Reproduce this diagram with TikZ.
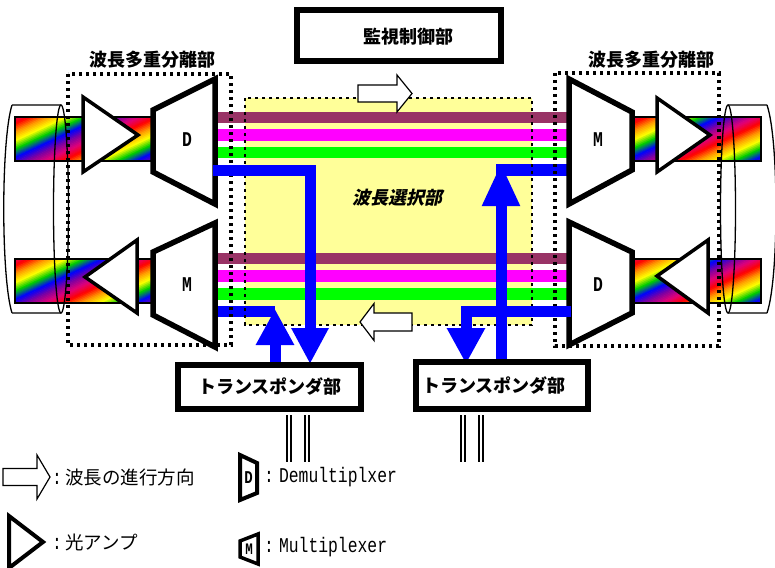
\documentclass[tikz,border=0pt]{standalone}
\usepackage{fontspec}
\newfontfamily\jpfont{Noto Sans CJK JP}
\newfontfamily\jpslant{Noto Sans CJK JP}[FakeSlant=0.22]
\newfontfamily\narrowmono{Liberation Mono}[FakeStretch=0.78]
\usetikzlibrary{arrows.meta}

\definecolor{chmaroon}{HTML}{993366}
\definecolor{chmagenta}{HTML}{FF00FF}
\definecolor{chgreen}{HTML}{00FF00}
\definecolor{chblue}{HTML}{0000FF}
\definecolor{selyellow}{HTML}{FFFF99}
% palette of the multi-wavelength fibre bands
\definecolor{rb0}{HTML}{FF0000}
\definecolor{rb1}{HTML}{FF9900}
\definecolor{rb2}{HTML}{FFFF00}
\definecolor{rb3}{HTML}{00CC00}
\definecolor{rb4}{HTML}{0000FF}
\definecolor{rb5}{HTML}{8000A0}
\definecolor{rb6}{HTML}{E0007A}

% diagonal rainbow band: x1, y1, x2, y2
\newcommand\rainbowbar[4]{%
  \begin{scope}
    \clip (#1,#2) rectangle (#3,#4);
    \foreach \k in {0,...,68}{%
      \pgfmathsetmacro\rbpos{mod(6.3+\k*1.5*7/54,7)}
      \pgfmathtruncatemacro\rbi{floor(\rbpos)}
      \pgfmathtruncatemacro\rbj{mod(\rbi+1,7)}
      \pgfmathsetmacro\rbf{100*(1-(\rbpos-\rbi))}
      \colorlet{bandcol}{rb\rbi!\rbf!rb\rbj}
      \pgfmathsetmacro\rbx{#1+\k*1.5*0.4226}
      \pgfmathsetmacro\rby{#2+\k*1.5*0.9063}
      \fill[bandcol] ({\rbx-200*0.9063},{\rby+200*0.4226})
        -- ({\rbx+200*0.9063},{\rby-200*0.4226})
        -- ({\rbx+200*0.9063+2*0.4226},{\rby-200*0.4226+2*0.9063})
        -- ({\rbx-200*0.9063+2*0.4226},{\rby+200*0.4226+2*0.9063}) -- cycle;
    }
  \end{scope}
  \draw[barframe] (#1,#2) rectangle (#3,#4);}

% hollow direction arrow: x, y, direction (1 or -1), total length, shaft length, half shaft, half head
\newcommand\hollowarrow[7]{%
  \draw[hollow] (#1,{#2-#6}) -- ({#1+#3*#5},{#2-#6}) -- ({#1+#3*#5},{#2-#7})
    -- ({#1+#3*#4},#2) -- ({#1+#3*#5},{#2+#7}) -- ({#1+#3*#5},{#2+#6})
    -- (#1,{#2+#6}) -- cycle;}

\begin{document}
\begin{tikzpicture}[x=1pt,y=-1pt,
  barframe/.style={draw=black,line width=1.5},
  cyl/.style={draw=black,line width=1.3},
  amp/.style={draw=black,fill=white,line width=3.5,line join=miter},
  trap/.style={draw=black,fill=white,line width=5.5,line join=miter},
  dotbox/.style={draw=black,line width=3.4,dash pattern=on 3.2pt off 3.8pt},
  chan/.style={line width=11.5},
  sigarrow/.style={draw=chblue,line width=11,line join=miter},
  bigtip/.style={-{Triangle[width=#1,length=36pt]}},
  hollow/.style={draw=black,fill=white,line width=1.2,line join=miter},
  unitbox/.style={draw=black,fill=white,line width=6,inner sep=0},
  jpbold/.style={font=\jpfont\bfseries\fontsize{18}{18}\selectfont,inner sep=0},
  jplegend/.style={font=\jpfont\fontsize{18.5}{18.5}\selectfont,inner sep=0,anchor=west},
  monolegend/.style={font=\narrowmono\fontsize{21}{21}\selectfont,inner sep=0,anchor=west},
  dmlabel/.style={font=\narrowmono\bfseries\fontsize{21}{21}\selectfont,inner sep=0},
  wire/.style={draw=black,line width=2.2,double=white,double distance=2}]
\useasboundingbox (0,0) rectangle (775,567);

% wavelength selector area
\fill[selyellow] (245,98) rectangle (532,325);

% fibre bands
\rainbowbar{15}{117}{153}{161}
\rainbowbar{15}{259}{153}{303}
\rainbowbar{632}{117}{761}{161}
\rainbowbar{632}{259}{761}{303}

% fibre bundles
\draw[cyl] (12,105) -- (61,105) (12,313) -- (61,313)
  (12,105) .. controls (1,140) and (1,278) .. (12,313);
\draw[cyl] (61,209) ellipse [x radius=7.5, y radius=104];
\draw[cyl] (728,209) ellipse [x radius=7.5, y radius=104];
\draw[cyl] (728,105) -- (767,105) (728,313) -- (767,313)
  (767,105) .. controls (779,140) and (779,278) .. (767,313);

% optical amplifiers
\draw[amp] (83,97) -- (83,172) -- (138,135) -- cycle;
\draw[amp] (137,240) -- (137,313) -- (85,277) -- cycle;
\draw[amp] (657,98) -- (657,172) -- (710,135) -- cycle;
\draw[amp] (708,240) -- (708,313) -- (657,276) -- cycle;

% end points of the channels
\coordinate (dLa) at (213,117.5); \coordinate (mRa) at (571,117.5);
\coordinate (dLb) at (213,135);   \coordinate (mRb) at (571,135);
\coordinate (dLc) at (213,152.5); \coordinate (mRc) at (571,152.5);
\coordinate (dLd) at (213,170);   \coordinate (mRd) at (571,170);
\coordinate (mLa) at (213,258.5); \coordinate (dRa) at (571,258.5);
\coordinate (mLb) at (213,276);   \coordinate (dRb) at (571,276);
\coordinate (mLc) at (213,294);   \coordinate (dRc) at (571,294);
\coordinate (mLd) at (213,311.5); \coordinate (dRd) at (571,311.5);

% through channels
\draw[chan,chmaroon] (dLa) -- (mRa);
\draw[chan,chmagenta] (dLb) -- (mRb);
\draw[chan,chgreen] (dLc) -- (mRc);
\draw[chan,chmaroon] (mLa) -- (dRa);
\draw[chan,chmagenta] (mLb) -- (dRb);
\draw[chan,chgreen] (mLc) -- (dRc);
% add/drop channel stubs
\coordinate (addL) at (275,311.5);
\coordinate (addR) at (496,170);
\draw[chan,chblue] (mLd) -- (addL);
\draw[chan,chblue] (mRd) -- (addR);

% multiplexers / demultiplexers
\draw[trap] (153,110) -- (215,79) -- (215,204) -- (153,172) -- cycle;
\draw[trap] (153,252) -- (215,223) -- (215,347) -- (153,315) -- cycle;
\draw[trap] (569,79) -- (632,112) -- (632,170) -- (569,204) -- cycle;
\draw[trap] (569,222) -- (632,252) -- (632,313) -- (569,345) -- cycle;
\node[dmlabel] (dL) at (187,140) {D};
\node[dmlabel] (mL) at (187,285) {M};
\node[dmlabel] (mR) at (598,140) {M};
\node[dmlabel] (dR) at (598,285) {D};

% dotted outlines
\draw[dotbox] (68,74) rectangle (231,345);
\draw[dotbox] (555,73) rectangle (719,346);
\draw[dotbox,line width=2.8] (245,98) rectangle (532,325);

% transponder units
\coordinate (trpLin) at (310,364);
\coordinate (trpLout) at (275,362);
\coordinate (trpRin) at (466,364);
\coordinate (trpRout) at (501,359);
\draw[sigarrow,bigtip=35pt] (dLd) -- (310,170) -- (trpLin);
\draw[sigarrow,bigtip=36pt] (trpLout) -- (275,309);
\draw[sigarrow,bigtip=36pt] (dRd) -- (466,311.5) -- (trpRin);
\draw[sigarrow,-{Triangle[width=35pt,length=43pt]}] (trpRout) -- (501,163);

\node[unitbox,minimum width=183,minimum height=44] (trpL) at (269.5,387) {};
\node[jpbold] (trpLtext) at (270,387) {トランスポンダ部};
\node[unitbox,minimum width=172,minimum height=47] (trpR) at (502,385.5) {};
\node[jpbold] (trpRtext) at (494,385.5) {トランスポンダ部};

\draw[wire] (289,415) -- (289,462);
\draw[wire] (307,415) -- (307,462);
\draw[wire] (463,415) -- (463,462);
\draw[wire] (481,415) -- (481,462);

% supervisory control unit
\node[unitbox,minimum width=204,minimum height=51] (ctrl) at (399,35.5) {};
\node[jpbold] (ctrltext) at (408,37) {監視制御部};

% section titles
\node[jpbold] (wdmL) at (152,60) {波長多重分離部};
\node[jpbold] (wdmR) at (651,60) {波長多重分離部};
\node[font=\jpslant\bfseries\fontsize{18}{18}\selectfont,inner sep=0] (sel) at (397,198) {波長選択部};

% direction of travel
\hollowarrow{358}{93.5}{1}{54}{39}{8.5}{18.5}
\hollowarrow{412}{322}{-1}{52}{38}{9}{18.5}

% legend
\hollowarrow{3}{477}{1}{47}{34}{8.5}{22}
\node[jplegend] (lgdir) at (52,477) {{\narrowmono\fontsize{21}{21}\selectfont:}\hspace{3pt}波長の進行方向};
\draw[amp,line width=4] (9,516) -- (9,568) -- (43,542) -- cycle;
\node[jplegend] (lgamp) at (52,542) {{\narrowmono\fontsize{21}{21}\selectfont:}\hspace{3pt}光アンプ};
\draw[trap,line width=4] (240,455) -- (257,463) -- (257,493) -- (240,500) -- cycle;
\node[dmlabel,font=\narrowmono\bfseries\fontsize{18}{18}\selectfont] (lgD) at (248.5,477.5) {D};
\node[monolegend] (lgDtext) at (264,477) {:\hspace{5pt}Demultiplxer};
\draw[trap,line width=3.5] (240,541) -- (258,534) -- (258,564) -- (240,557) -- cycle;
\node[dmlabel,font=\narrowmono\bfseries\fontsize{16}{16}\selectfont] (lgM) at (249,549) {M};
\node[monolegend] (lgMtext) at (264,547) {:\hspace{5pt}Multiplexer};
\end{tikzpicture}
\end{document}
